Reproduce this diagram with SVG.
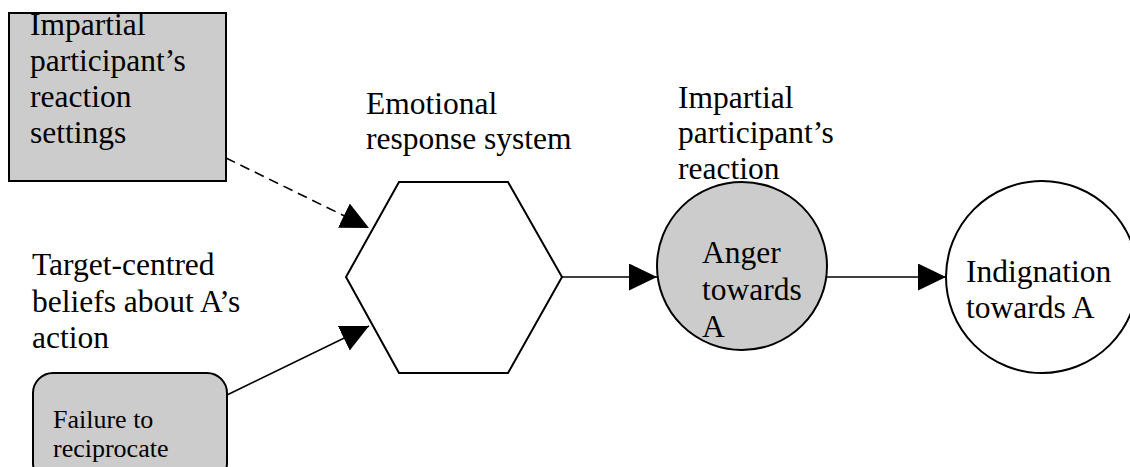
<svg xmlns="http://www.w3.org/2000/svg" width="1130" height="467" viewBox="0 0 1130 467">
  <defs>
    <style>
      .t { font-family: "Liberation Serif", "Times New Roman", serif; font-size: 31.5px; fill: #000; }
      .s { font-family: "Liberation Serif", "Times New Roman", serif; font-size: 26px; fill: #000; }
      .shape { stroke: #000; stroke-width: 2; }
      .gray { fill: #cccccc; }
      .white { fill: #ffffff; }
      .conn { stroke: #000; stroke-width: 1.6; fill: none; }
      .dash { stroke-dasharray: 10 6; }
    </style>
    <marker id="arrow" markerUnits="userSpaceOnUse" markerWidth="28" markerHeight="28" refX="28" refY="13.5" orient="auto">
      <path d="M0,0 L28,13.5 L0,27 Z" fill="#000"/>
    </marker>
  </defs>
  <rect width="1130" height="467" fill="#ffffff"/>

  <g id="settings">
    <rect class="shape gray" x="9" y="13" width="217" height="168"/>
    <text class="t" x="30"><tspan x="30" y="35">Impartial</tspan><tspan x="30" y="71">participant’s</tspan><tspan x="30" y="107">reaction</tspan><tspan x="30" y="143">settings</tspan></text>
  </g>

  <g id="beliefs-label">
    <text class="t"><tspan x="32" y="275">Target-centred</tspan><tspan x="32" y="311.5">beliefs about A’s</tspan><tspan x="32" y="348">action</tspan></text>
  </g>

  <g id="failure">
    <rect class="shape gray" x="33" y="373" width="194" height="110" rx="20" ry="20"/>
    <text class="s"><tspan x="53" y="428">Failure to</tspan><tspan x="53" y="457">reciprocate</tspan></text>
  </g>

  <g id="emotional">
    <polygon class="shape white" points="399,182 508,182 562,277 508,373 399,373 346,277"/>
    <text class="t"><tspan x="366" y="114">Emotional</tspan><tspan x="366" y="149">response system</tspan></text>
  </g>

  <g id="reaction-label">
    <text class="t"><tspan x="678" y="108">Impartial</tspan><tspan x="678" y="143">participant’s</tspan><tspan x="678" y="179">reaction</tspan></text>
  </g>

  <g id="anger">
    <ellipse class="shape gray" cx="742" cy="266" rx="85" ry="84"/>
    <text class="t"><tspan x="702" y="263">Anger</tspan><tspan x="702" y="300">towards</tspan><tspan x="702" y="337">A</tspan></text>
  </g>

  <g id="indignation">
    <circle class="shape white" cx="1042" cy="277" r="96"/>
    <text class="t"><tspan x="966" y="282">Indignation</tspan><tspan x="966" y="318">towards A</tspan></text>
  </g>

  <g id="connectors">
    <line class="conn dash" x1="226" y1="158" x2="369" y2="228" marker-end="url(#arrow)"/>
    <line class="conn" x1="227" y1="395" x2="369" y2="326" marker-end="url(#arrow)"/>
    <line class="conn" x1="562" y1="277" x2="657" y2="277" marker-end="url(#arrow)"/>
    <line class="conn" x1="826" y1="277" x2="946" y2="277" marker-end="url(#arrow)"/>
  </g>
</svg>
